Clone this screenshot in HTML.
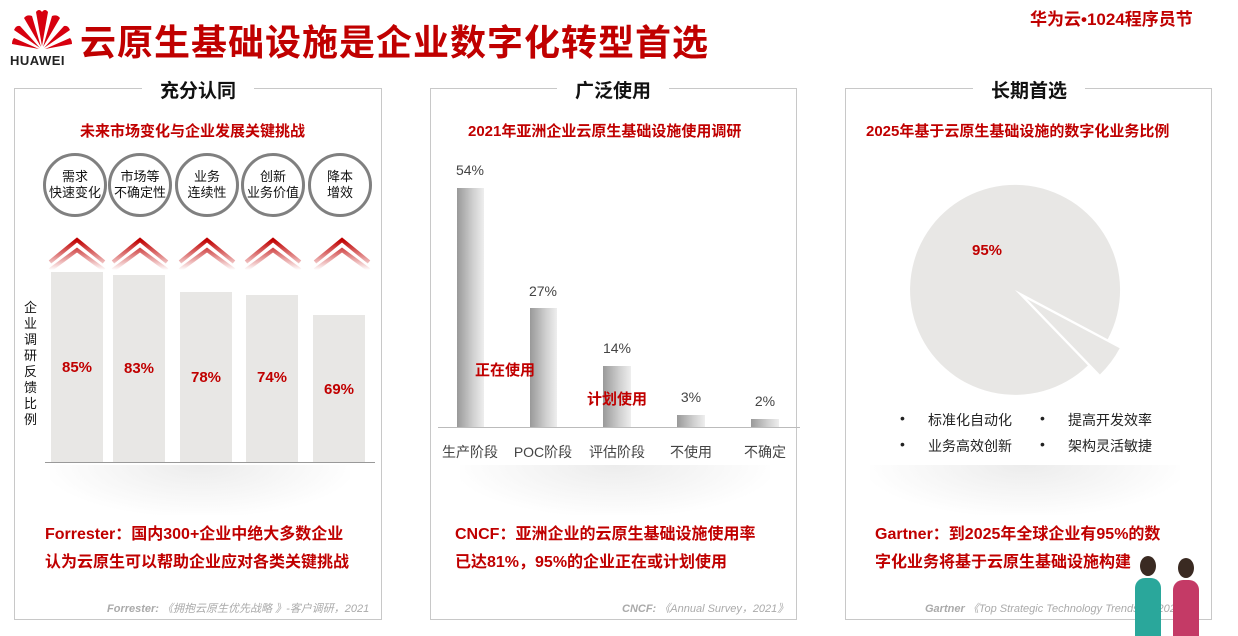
<!DOCTYPE html>
<html><head><meta charset="utf-8"><style>
*{margin:0;padding:0;box-sizing:border-box}
body{width:1238px;height:636px;background:#fff;position:relative;overflow:hidden;font-family:"Liberation Sans","Noto Sans CJK SC",sans-serif}
.a{position:absolute;white-space:nowrap}
.panel{position:absolute;top:88px;height:532px;border:1px solid #c8c8c8}
.pt{position:absolute;top:76px;background:#fff;font-size:19px;font-weight:bold;color:#111;text-align:center;padding:0 12px}
.sub{font-size:15px;font-weight:bold;color:#c00000}
.red{color:#c00000;font-weight:bold;font-size:16px;line-height:28px}
.fn{font-size:11px;font-style:italic;color:#aaa}
.circ{position:absolute;top:153px;width:64px;height:64px;border:3px solid #808080;border-radius:50%;font-size:13px;line-height:16px;text-align:center;display:flex;align-items:center;justify-content:center;color:#111;background:#fff}
.bar{position:absolute;background:#e8e7e5}
.bl{position:absolute;font-size:15px;font-weight:bold;color:#c00000;text-align:center}
.mb{position:absolute;background:linear-gradient(90deg,#999,#d0d0d0 60%,#eee)}
.ml{position:absolute;font-size:14px;color:#444;text-align:center;width:80px}
.shadow{position:absolute;height:50px;background:radial-gradient(ellipse at 50% 0%,#ececec 0%,#f6f6f6 40%,#fff 75%)}
</style></head><body>
<svg class="a" style="left:10px;top:6px" width="64" height="46" viewBox="0 0 64 46">
<g fill="#d7000f">
<path d="M32 40 L26 6 Q29 2 32 6Z"/><path d="M32 40 L38 6 Q35 2 32 6Z" />
<path d="M31 41 L14 12 Q17 8 22 10Z"/><path d="M33 41 L50 12 Q47 8 42 10Z"/>
<path d="M30 42 L4 24 Q6 19 10 20Z"/><path d="M34 42 L60 24 Q58 19 54 20Z"/>
<path d="M29 43 L2 38 Q2 34 4 32Z"/><path d="M35 43 L62 38 Q62 34 60 32Z"/>
</g></svg>
<div class="a" style="left:10px;top:53px;font-size:13px;font-weight:bold;color:#222;letter-spacing:0.5px">HUAWEI</div>
<div class="a" style="left:80px;top:14px;font-size:36px;font-weight:bold;color:#c00000;letter-spacing:1px">云原生基础设施是企业数字化转型首选</div>
<div class="a" style="left:1030px;top:5px;font-size:17px;font-weight:bold;color:#c00000">华为云•1024程序员节</div>

<div class="panel" style="left:14px;width:368px"></div>
<div class="panel" style="left:430px;width:367px"></div>
<div class="panel" style="left:845px;width:367px"></div>
<div class="pt" style="left:142px;width:112px">充分认同</div>
<div class="pt" style="left:557px;width:112px">广泛使用</div>
<div class="pt" style="left:973px;width:112px">长期首选</div>

<div class="a sub" style="left:80px;top:120px">未来市场变化与企业发展关键挑战</div>
<div class="a sub" style="left:468px;top:120px">2021年亚洲企业云原生基础设施使用调研</div>
<div class="a sub" style="left:866px;top:120px">2025年基于云原生基础设施的数字化业务比例</div>

<div class="circ" style="left:43px">需求<br>快速变化</div>
<div class="circ" style="left:108px">市场等<br>不确定性</div>
<div class="circ" style="left:175px">业务<br>连续性</div>
<div class="circ" style="left:241px">创新<br>业务价值</div>
<div class="circ" style="left:308px">降本<br>增效</div>

<svg class="a" style="left:0;top:234px" width="400" height="36">
<defs><linearGradient id="cg" x1="0" y1="0" x2="0" y2="1"><stop offset="0" stop-color="#c00000"/><stop offset="1" stop-color="#fff"/></linearGradient></defs>
<g fill="none" stroke="url(#cg)" stroke-width="4">
<path d="M50 28 L77 6 L104 28M50 36 L77 16 L104 36"/>
<path d="M113 28 L140 6 L167 28M113 36 L140 16 L167 36"/>
<path d="M180 28 L207 6 L234 28M180 36 L207 16 L234 36"/>
<path d="M246 28 L273 6 L300 28M246 36 L273 16 L300 36"/>
<path d="M315 28 L342 6 L369 28M315 36 L342 16 L369 36"/>
</g></svg>

<div class="a" style="left:24px;top:300px;width:14px;font-size:13px;line-height:16px;white-space:normal;color:#111">企业调研反馈比例</div>
<div class="bar" style="left:51px;top:272px;width:52px;height:190px"></div>
<div class="bar" style="left:113px;top:275px;width:52px;height:187px"></div>
<div class="bar" style="left:180px;top:292px;width:52px;height:170px"></div>
<div class="bar" style="left:246px;top:295px;width:52px;height:167px"></div>
<div class="bar" style="left:313px;top:315px;width:52px;height:147px"></div>
<div class="bl" style="left:51px;top:359px;width:52px">85%</div>
<div class="bl" style="left:113px;top:360px;width:52px">83%</div>
<div class="bl" style="left:180px;top:369px;width:52px">78%</div>
<div class="bl" style="left:246px;top:369px;width:52px">74%</div>
<div class="bl" style="left:313px;top:381px;width:52px">69%</div>
<div class="a" style="left:45px;top:462px;width:330px;height:1px;background:#999"></div>
<div class="shadow" style="left:50px;top:465px;width:300px"></div>

<div class="mb" style="left:457px;top:188px;width:27px;height:239px"></div>
<div class="mb" style="left:530px;top:308px;width:27px;height:119px"></div>
<div class="mb" style="left:603px;top:366px;width:28px;height:61px"></div>
<div class="mb" style="left:677px;top:415px;width:28px;height:12px"></div>
<div class="mb" style="left:751px;top:419px;width:28px;height:8px"></div>
<div class="a" style="left:438px;top:427px;width:362px;height:1px;background:#bbb"></div>
<div class="ml" style="left:430px;top:162px">54%</div>
<div class="ml" style="left:503px;top:283px">27%</div>
<div class="ml" style="left:577px;top:340px">14%</div>
<div class="ml" style="left:651px;top:389px">3%</div>
<div class="ml" style="left:725px;top:393px">2%</div>
<div class="ml" style="left:430px;top:442px">生产阶段</div>
<div class="ml" style="left:503px;top:442px">POC阶段</div>
<div class="ml" style="left:577px;top:442px">评估阶段</div>
<div class="ml" style="left:651px;top:442px">不使用</div>
<div class="ml" style="left:725px;top:442px">不确定</div>
<div class="a" style="left:475px;top:359px;font-size:15px;font-weight:bold;color:#c00000">正在使用</div>
<div class="a" style="left:587px;top:388px;font-size:15px;font-weight:bold;color:#c00000">计划使用</div>
<div class="shadow" style="left:460px;top:465px;width:310px"></div>

<svg class="a" style="left:890px;top:170px" width="260" height="240">
<path d="M125 120 L197.9 195.5 A105 105 0 1 1 217.7 169.3 Z" fill="#e8e7e5"/>
<path d="M137 129 L229.7 178.3 A105 105 0 0 1 209.9 204.5 Z" fill="#e8e7e5"/>
</svg>
<div class="a" style="left:972px;top:242px;font-size:15px;font-weight:bold;color:#c00000">95%</div>
<div class="a" style="left:900px;top:410px;font-size:14px;color:#222">•</div>
<div class="a" style="left:928px;top:410px;font-size:14px;color:#222">标准化自动化</div>
<div class="a" style="left:1040px;top:410px;font-size:14px;color:#222">•</div>
<div class="a" style="left:1068px;top:410px;font-size:14px;color:#222">提高开发效率</div>
<div class="a" style="left:900px;top:436px;font-size:14px;color:#222">•</div>
<div class="a" style="left:928px;top:436px;font-size:14px;color:#222">业务高效创新</div>
<div class="a" style="left:1040px;top:436px;font-size:14px;color:#222">•</div>
<div class="a" style="left:1068px;top:436px;font-size:14px;color:#222">架构灵活敏捷</div>
<div class="shadow" style="left:870px;top:465px;width:310px"></div>

<div class="a red" style="left:45px;top:521px">Forrester：国内300+企业中绝大多数企业<br>认为云原生可以帮助企业应对各类关键挑战</div>
<div class="a red" style="left:455px;top:521px">CNCF：亚洲企业的云原生基础设施使用率<br>已达81%，95%的企业正在或计划使用</div>
<div class="a red" style="left:875px;top:521px">Gartner：到2025年全球企业有95%的数<br>字化业务将基于云原生基础设施构建</div>

<div class="a fn" style="left:107px;top:600px"><b>Forrester:</b> 《拥抱云原生优先战略 》-客户调研，2021</div>
<div class="a fn" style="left:622px;top:600px"><b>CNCF:</b> 《Annual Survey，2021》</div>
<div class="a fn" style="left:925px;top:600px"><b>Gartner</b> 《Top Strategic Technology Trends for 2022》</div>

<div class="a" style="left:1135px;top:578px;width:26px;height:58px;background:#2aa79b;border-radius:10px 10px 0 0"></div>
<div class="a" style="left:1140px;top:556px;width:16px;height:20px;background:#3a2a22;border-radius:50%"></div>
<div class="a" style="left:1173px;top:580px;width:26px;height:56px;background:#c43a66;border-radius:10px 10px 0 0"></div>
<div class="a" style="left:1178px;top:558px;width:16px;height:20px;background:#3a2a22;border-radius:50%"></div>
</body></html>
